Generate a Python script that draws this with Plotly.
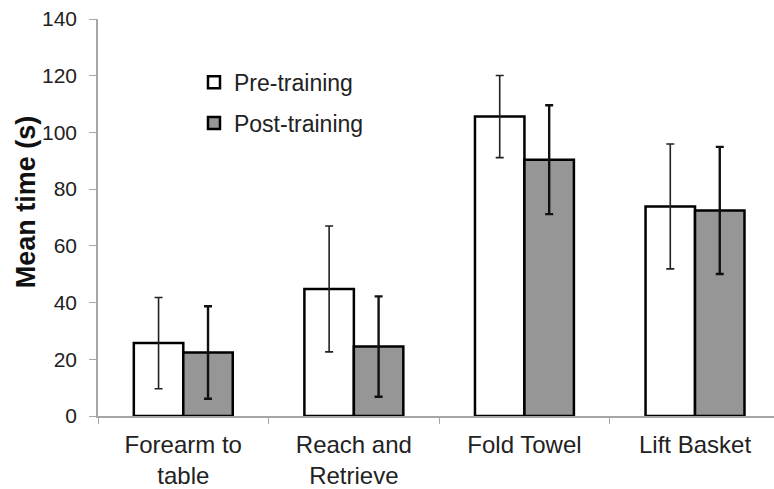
import plotly.graph_objects as go

# Task categories and mean completion times (s) with error bar half-widths
tasks = ["Forearm to<br>table", "Reach and<br>Retrieve", "Fold Towel", "Lift Basket"]
pre_mean = [25.7, 44.8, 105.6, 73.9]
pre_err = [16.1, 22.2, 14.5, 22.0]
post_mean = [22.4, 24.5, 90.4, 72.5]
post_err = [16.3, 17.7, 19.2, 22.4]

FONT = "Liberation Sans, Arial, sans-serif"

fig = go.Figure()
fig.add_trace(go.Bar(
    name="Pre-training", x=tasks, y=pre_mean, legendgroup="pre",
    marker=dict(color="white", line=dict(color="black", width=2.5)),
    error_y=dict(type="data", array=pre_err, visible=True,
                 color="#222222", thickness=1.6, width=4),
))
fig.add_trace(go.Bar(
    name="Post-training", x=tasks, y=post_mean, legendgroup="post",
    marker=dict(color="#969696", line=dict(color="black", width=2.5)),
    error_y=dict(type="data", array=post_err, visible=True,
                 color="#111111", thickness=2.4, width=4),
))

fig.update_layout(
    width=774, height=489,
    margin=dict(l=98, r=0, t=19, b=73),
    paper_bgcolor="white", plot_bgcolor="white",
    barmode="group", bargap=0.42, bargroupgap=0,
    font=dict(family=FONT, color="#222222"),
    legend=dict(x=0.142, y=0.895, xanchor="left", yanchor="top",
                font=dict(size=23, family=FONT, color="#222222"),
                bgcolor="rgba(0,0,0,0)", traceorder="grouped",
                tracegroupgap=8, itemwidth=30),
    xaxis=dict(range=[-0.5, 3.463], showline=True, linecolor="#a6a6a6", linewidth=1.5,
               ticks="outside", tickson="boundaries", ticklen=6, tickcolor="#a6a6a6",
               tickfont=dict(size=24, family=FONT, color="#222222"),
               ticklabelstandoff=6, automargin=False,
               showgrid=False, zeroline=False),
    yaxis=dict(range=[0, 140], dtick=20, showline=True, linecolor="#a6a6a6", linewidth=1.5,
               ticks="outside", ticklen=7, tickcolor="#a6a6a6",
               tickfont=dict(size=21, family=FONT, color="#222222"),
               ticklabelstandoff=8, automargin=False,
               showgrid=False, zeroline=False),
    annotations=[dict(text="<b>Mean time (s)</b>", textangle=-90,
                      xref="paper", yref="paper", x=-0.107, y=0.54,
                      xanchor="center", yanchor="middle", showarrow=False,
                      font=dict(size=27, family=FONT, color="#111111"))],
)

fig.write_html("out.html")
